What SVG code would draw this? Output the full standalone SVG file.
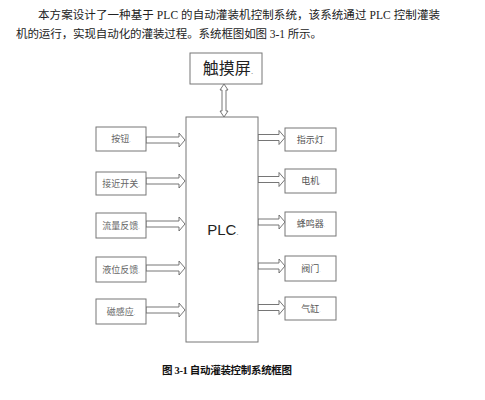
<svg xmlns="http://www.w3.org/2000/svg" width="485" height="400" viewBox="0 0 485 400">
<style>
.box{fill:#fff;stroke:#777;stroke-width:1}
.arr{fill:#fff;stroke:#666;stroke-width:0.9;stroke-linejoin:miter}
.para{font-family:"Liberation Serif","Noto Sans CJK SC",serif;font-size:11.5px;fill:#222}
.lt{font-family:"Liberation Serif","Noto Sans CJK SC",serif;font-size:9px;fill:#666;text-anchor:middle}
.rt{font-family:"Liberation Sans","Noto Sans CJK SC",sans-serif;font-size:9px;fill:#555;text-anchor:middle}
.big{font-family:"Liberation Sans","Noto Sans CJK SC",sans-serif;font-size:16px;fill:#222;text-anchor:middle}
.cap{font-family:"Liberation Serif","Noto Sans CJK SC",serif;font-size:10.5px;font-weight:bold;fill:#111}
.pm{font-size:60%;fill:#999}
</style>
<rect width="485" height="400" fill="#fff"/>
<text class="para" x="38" y="19" textLength="402" lengthAdjust="spacing">本方案设计了一种基于 PLC 的自动灌装机控制系统，该系统通过 PLC 控制灌装</text>
<text class="para" x="16" y="38" textLength="306" lengthAdjust="spacing">机的运行，实现自动化的灌装过程。系统框图如图 3-1 所示。</text>

<g id="connectors">
<path class="arr" d="M224,84 L228,90 L226,90 L226,111 L228,111 L224,117 L220,111 L222,111 L222,90 L220,90 Z"/>
<path class="arr" d="M146,137 L179,137 L179,133 L185,140 L179,147 L179,143 L146,143 Z"/>
<path class="arr" d="M146,178 L179,178 L179,174 L185,181 L179,188 L179,184 L146,184 Z"/>
<path class="arr" d="M146,221 L179,221 L179,217 L185,224 L179,231 L179,227 L146,227 Z"/>
<path class="arr" d="M146,265 L179,265 L179,261 L185,268 L179,275 L179,271 L146,271 Z"/>
<path class="arr" d="M146,307 L179,307 L179,303 L185,310 L179,317 L179,313 L146,313 Z"/>
<path class="arr" d="M258,134.5 L279,134.5 L279,130.5 L285,137.5 L279,144.5 L279,140.5 L258,140.5 Z"/>
<path class="arr" d="M258,176.5 L279,176.5 L279,172.5 L285,179.5 L279,186.5 L279,182.5 L258,182.5 Z"/>
<path class="arr" d="M258,219 L279,219 L279,215 L285,222 L279,229 L279,225 L258,225 Z"/>
<path class="arr" d="M258,263 L279,263 L279,259 L285,266 L279,273 L279,269 L258,269 Z"/>
<path class="arr" d="M258,304.5 L279,304.5 L279,300.5 L285,307.5 L279,314.5 L279,310.5 L258,310.5 Z"/>
</g>

<g id="touch"><rect class="box" x="190" y="53" width="72" height="31"/><text class="big" x="228" y="74">触摸屏<tspan class="pm">.</tspan></text></g>
<g id="plc"><rect class="box" x="186" y="117" width="72" height="225"/><text class="big" x="223" y="235" style="font-size:15px">PLC<tspan class="pm">.</tspan></text></g>

<g id="btn"><rect class="box" x="96" y="127" width="50" height="24"/><text class="lt" x="121" y="142">按钮<tspan class="pm">.</tspan></text></g>
<g id="prox"><rect class="box" x="96" y="172" width="50" height="23"/><text class="lt" x="121" y="187">接近开关<tspan class="pm">.</tspan></text></g>
<g id="flow"><rect class="box" x="96" y="213" width="50" height="25"/><text class="lt" x="121" y="229">流量反馈<tspan class="pm">.</tspan></text></g>
<g id="level"><rect class="box" x="96" y="257" width="50" height="25"/><text class="lt" x="121" y="273">液位反馈<tspan class="pm">.</tspan></text></g>
<g id="mag"><rect class="box" x="96" y="299" width="50" height="25"/><text class="lt" x="121" y="315">磁感应<tspan class="pm">.</tspan></text></g>

<g id="lamp"><rect class="box" x="285" y="128" width="51" height="23"/><text class="rt" x="311" y="143">指示灯<tspan class="pm">.</tspan></text></g>
<g id="motor"><rect class="box" x="285" y="169" width="51" height="24"/><text class="rt" x="311" y="184">电机<tspan class="pm">.</tspan></text></g>
<g id="buzzer"><rect class="box" x="285" y="212" width="51" height="24"/><text class="rt" x="311" y="227">蜂鸣器<tspan class="pm">.</tspan></text></g>
<g id="valve"><rect class="box" x="285" y="256" width="51" height="25"/><text class="rt" x="311" y="272">阀门<tspan class="pm">.</tspan></text></g>
<g id="cyl"><rect class="box" x="285" y="297" width="51" height="23"/><text class="rt" x="311" y="312">气缸<tspan class="pm">.</tspan></text></g>

<text class="cap" x="162" y="374" textLength="130" lengthAdjust="spacing">图 3-1 自动灌装控制系统框图</text>
</svg>
